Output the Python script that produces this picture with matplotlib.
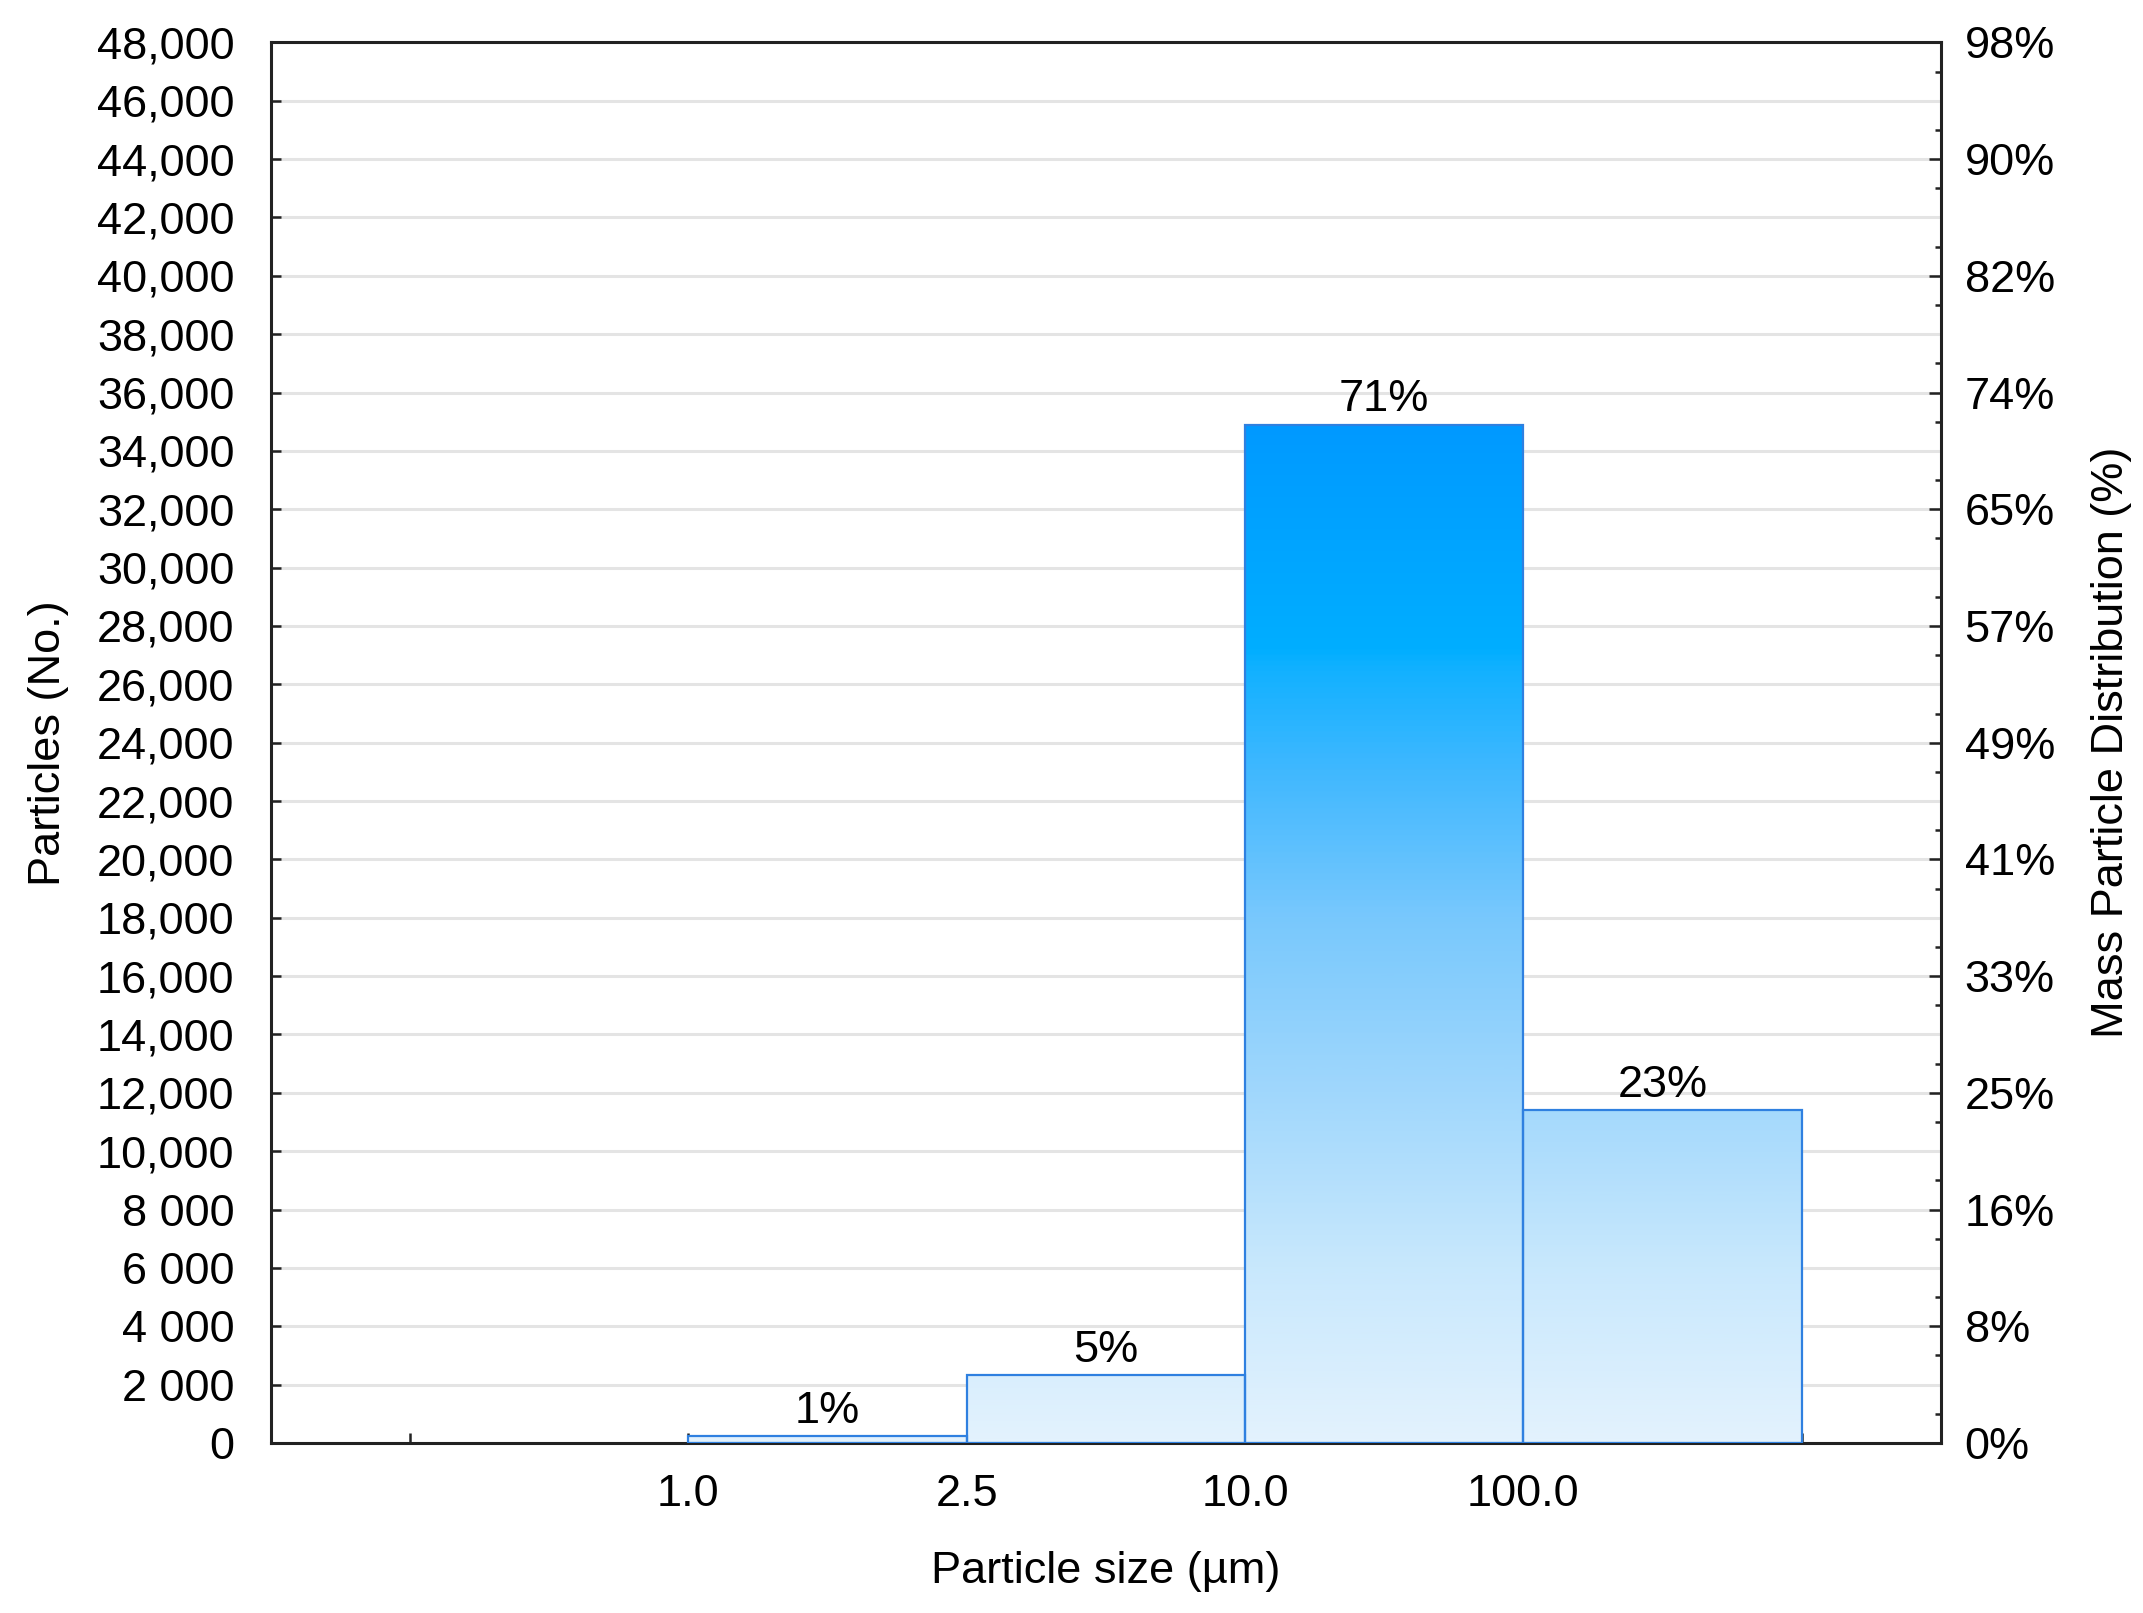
import matplotlib.pyplot as plt
import numpy as np
from matplotlib.colors import LinearSegmentedColormap

plt.rcParams['font.family'] = ['Liberation Sans', 'DejaVu Sans']

# data
size_labels = ["1.0", "2.5", "10.0", "100.0"]
particles = [230, 2340, 34900, 11420]
mass_pct = ["1%", "5%", "71%", "23%"]

left_ticks = list(range(0, 48001, 2000))
left_labels = ["0", "2 000", "4 000", "6 000", "8 000", "10,000", "12,000", "14,000",
               "16,000", "18,000", "20,000", "22,000", "24,000", "26,000", "28,000",
               "30,000", "32,000", "34,000", "36,000", "38,000", "40,000", "42,000",
               "44,000", "46,000", "48,000"]
right_ticks = list(range(0, 48001, 4000))
right_labels = ["0%", "8%", "16%", "25%", "33%", "41%", "49%", "57%", "65%",
                "74%", "82%", "90%", "98%"]

fs = 32.5

fig = plt.figure(figsize=(21.43, 16.13), dpi=100)
ax = fig.add_axes([0.1263, 0.1054, 0.9057 - 0.1263, 0.9737 - 0.1054])

ymax = 48000
xlo, xhi = -1.5, 4.5

# gradient mapped to absolute height
stops = [(0.0, "#e3f2fd"), (6000 / ymax, "#c8e8fd"), (12000 / ymax, "#a0d7fc"),
         (18000 / ymax, "#78c8fd"), (23000 / ymax, "#40b8ff"), (26500 / ymax, "#12b1ff"),
         (27200 / ymax, "#00aeff"), (35000 / ymax, "#0099ff"), (1.0, "#0090ff")]
cmap = LinearSegmentedColormap.from_list("grad", stops)
grad = np.linspace(0, 1, 512).reshape(-1, 1)

lefts = np.arange(len(particles))
bars = ax.bar(lefts, particles, width=1.0, align="edge", facecolor="none",
              edgecolor="#2f80e0", linewidth=1.6, zorder=3)
for b in bars:
    im = ax.imshow(grad, cmap=cmap, aspect="auto", origin="lower",
                   extent=[xlo, xhi, 0, ymax], zorder=2, vmin=0, vmax=1)
    im.set_clip_path(b)

for b, lab in zip(bars, mass_pct):
    ax.annotate(lab, (b.get_x() + 0.5, b.get_height()), xytext=(0, 3),
                textcoords="offset points", ha="center", va="bottom", fontsize=fs)

ax.set_xlim(xlo, xhi)
ax.set_ylim(0, ymax)
ax.set_yticks(left_ticks)
ax.set_yticklabels(left_labels)
ax.set_xticks([-1, 0, 1, 2, 3, 4])
ax.set_xticklabels([""] + size_labels + [""])
ax.yaxis.grid(True, color="#e4e4e4", linewidth=2.2, zorder=0)
ax.set_axisbelow(True)

ax.tick_params(axis="both", direction="in", labelsize=fs, length=7, width=1.8,
               color="#222222")
ax.tick_params(axis="y", pad=26)
ax.tick_params(axis="x", pad=22)
for sp in ax.spines.values():
    sp.set_linewidth(2.2)
    sp.set_color("#222222")

ax2 = ax.twinx()
ax2.set_ylim(0, ymax)
ax2.set_yticks(right_ticks)
ax2.set_yticklabels(right_labels)
ax2.set_yticks(range(0, 48001, 2000), minor=True)
ax2.tick_params(axis="y", which="major", direction="in", length=9, width=1.8,
                labelsize=fs, pad=17, color="#222222")
ax2.tick_params(axis="y", which="minor", direction="in", length=9, width=1.8,
                color="#222222")
ax2.set_yticks(range(1000, 48000, 2000), minor=True)
ax2.tick_params(axis="y", which="minor", length=4)
for sp in ax2.spines.values():
    sp.set_visible(False)

ax.set_xlabel("Particle size (µm)", fontsize=fs, labelpad=26)
ax.set_ylabel("Particles (No.)", fontsize=fs, labelpad=20)
ax2.set_ylabel("Mass Particle Distribution (%)", fontsize=fs, labelpad=26)

plt.savefig("out.png", dpi=100)
